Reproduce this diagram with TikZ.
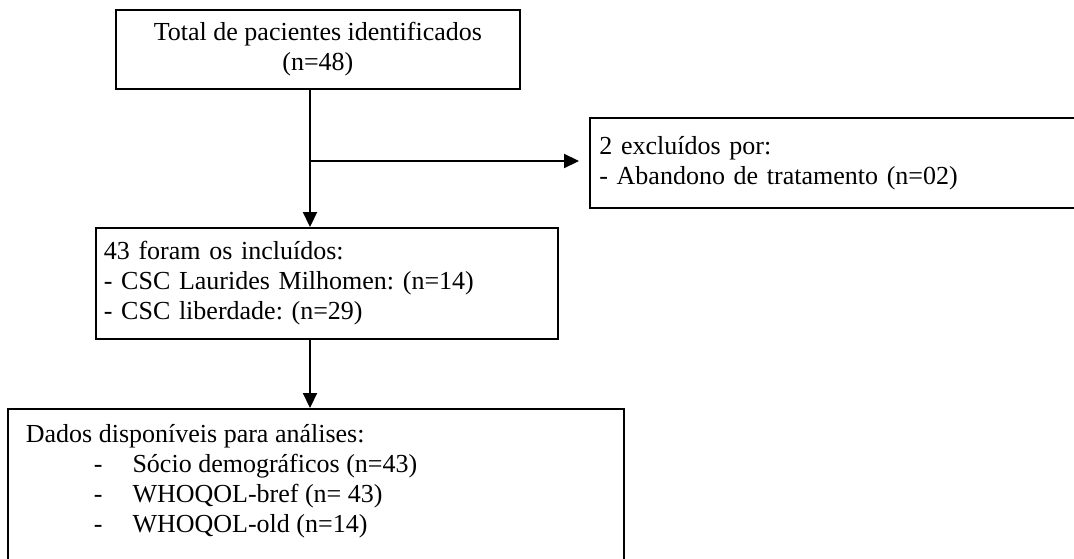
\documentclass[tikz,border=0pt]{standalone}
\usepackage{fontspec}
\setmainfont{Liberation Serif}
\usetikzlibrary{arrows.meta}
\frenchspacing
\tikzset{
  box/.style={draw=black, line width=1.8pt, rectangle, inner sep=0pt, font=\fontsize{26pt}{30pt}\selectfont},
  arr/.style={line width=2.2pt, -{Triangle[length=15pt,width=14pt]}}
}
\begin{document}
\begin{tikzpicture}[x=1pt,y=-1pt]
\useasboundingbox (0,0) rectangle (1074,559);
\node[box, anchor=north west, minimum width=404pt, minimum height=79pt, align=center] (b1) at (115,9)
  {Total de pacientes identificados\\(n=48)};
\node[box, anchor=north west, minimum width=500pt, minimum height=90pt, text width=481pt, inner xsep=9.5pt, align=left] (b3) at (589,117)
  {2 excluídos por:\\- Abandono de tratamento (n=02)};
\node[box, anchor=north west, minimum width=462pt, minimum height=111pt, text width=446pt, inner xsep=8pt, align=left] (b2) at (95,227)
  {43 foram os incluídos:\\- CSC Laurides Milhomen: (n=14)\\- CSC liberdade: (n=29)};
\node[box, anchor=north west, inner xsep=18pt, inner ysep=16pt] (b4) at (7,408)
  {\parbox[t][160pt][t]{580pt}{\fontsize{26pt}{30pt}\selectfont\frenchspacing
   Dados disponíveis para análises:\\
   \hspace*{68pt}-\hspace*{30pt}Sócio demográficos (n=43)\\
   \hspace*{68pt}-\hspace*{30pt}WHOQOL-bref (n= 43)\\
   \hspace*{68pt}-\hspace*{30pt}WHOQOL-old (n=14)}};
\coordinate (j) at (310,161);
\draw[arr] (b1.south -| j) -- (b2.north -| j);
\draw[arr, shorten >=10pt] (j) -- (j -| b3.west);
\draw[arr] (b2.south -| j) -- (b4.north -| j);
\end{tikzpicture}
\end{document}
